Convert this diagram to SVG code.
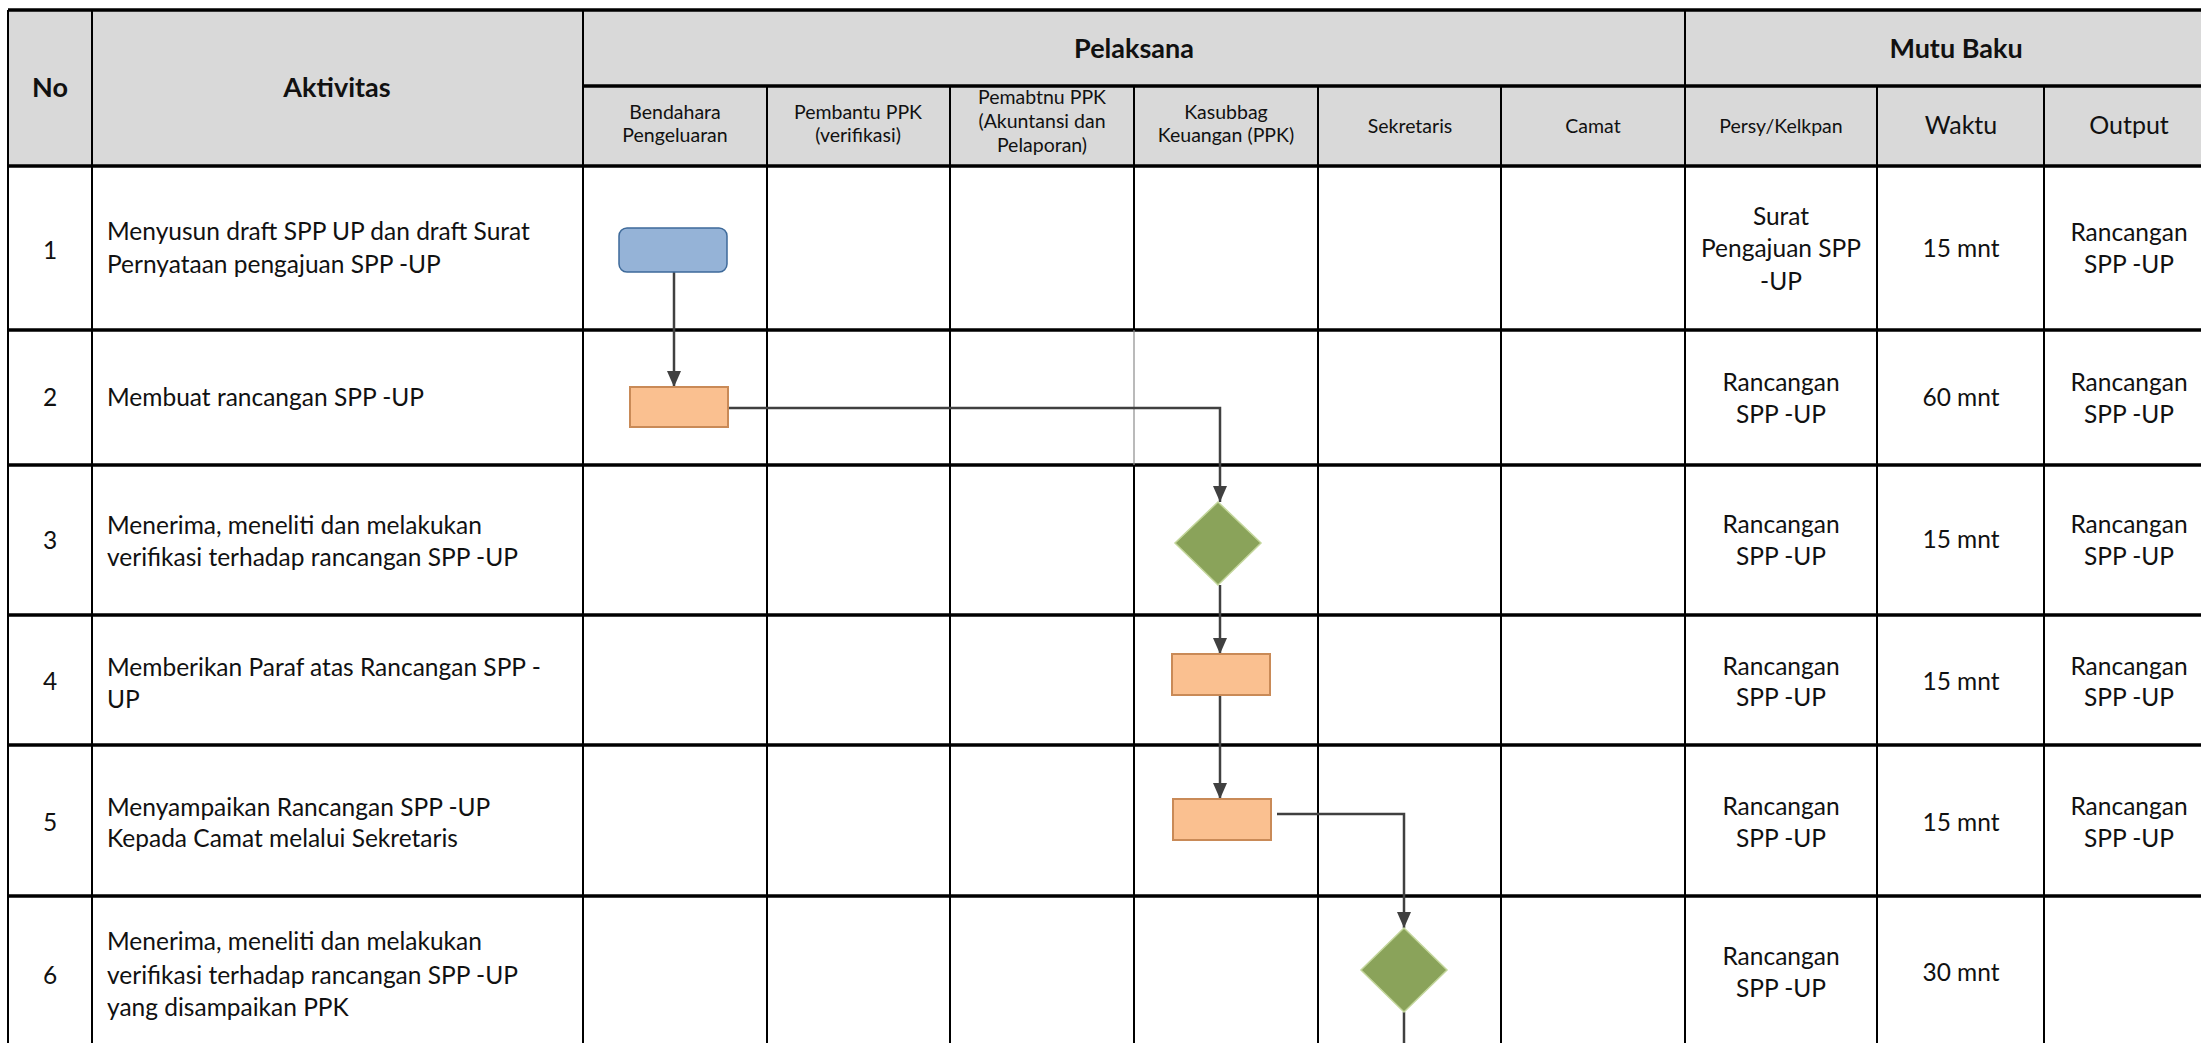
<svg xmlns="http://www.w3.org/2000/svg" width="2201" height="1043" viewBox="0 0 2201 1043">
<style>
  text { font-family: Lato, "Open Sans", sans-serif; fill: #111; }
  .h { font-weight: bold; font-size: 27px; text-anchor: middle; }
  .sh { font-size: 19.5px; text-anchor: middle; }
  .shl { font-size: 25px; text-anchor: middle; }
  .b { font-size: 24.5px; }
  .c { font-size: 24.5px; text-anchor: middle; }
  .gh { stroke: #000; stroke-width: 3.5; }
  .gv { stroke: #000; stroke-width: 2; }
  .proc { fill: #FAC090; stroke: #C98A57; stroke-width: 2; }
  .dec { fill: #8AA35A; stroke: #C3D69B; stroke-width: 1.5; }
  .start { fill: #95B3D7; stroke: #3E6A9A; stroke-width: 1.5; }
  .conn { fill: none; stroke: #404040; stroke-width: 2.5; }
</style>
<defs>
  <marker id="arr" markerUnits="userSpaceOnUse" markerWidth="16" markerHeight="14" refX="16" refY="7" orient="auto">
    <path d="M0,0 L16,7 L0,14 z" fill="#404040"/>
  </marker>
</defs>
<rect width="2201" height="1043" fill="#fff"/>
<g id="table">
  <rect x="8" y="10" width="2219" height="156" fill="#D9D9D9"/>
  <line class="gh" x1="8" y1="10" x2="2227" y2="10"/>
  <line class="gh" x1="583" y1="86" x2="2227" y2="86"/>
  <line class="gh" x1="8" y1="166" x2="2227" y2="166"/>
  <line class="gh" x1="8" y1="330" x2="2227" y2="330"/>
  <line class="gh" x1="8" y1="465" x2="2227" y2="465"/>
  <line class="gh" x1="8" y1="615" x2="2227" y2="615"/>
  <line class="gh" x1="8" y1="745" x2="2227" y2="745"/>
  <line class="gh" x1="8" y1="896" x2="2227" y2="896"/>
  <line class="gv" x1="8" y1="10" x2="8" y2="1050"/>
  <line class="gv" x1="92" y1="10" x2="92" y2="1050"/>
  <line class="gv" x1="583" y1="10" x2="583" y2="1050"/>
  <line class="gv" x1="767" y1="86" x2="767" y2="1050"/>
  <line class="gv" x1="950" y1="86" x2="950" y2="1050"/>
  <line class="gv" x1="1134" y1="86" x2="1134" y2="330"/>
  <line x1="1134" y1="330" x2="1134" y2="465" stroke="#8c8c8c" stroke-width="1.2"/>
  <line class="gv" x1="1134" y1="465" x2="1134" y2="1050"/>
  <line class="gv" x1="1318" y1="86" x2="1318" y2="1050"/>
  <line class="gv" x1="1501" y1="86" x2="1501" y2="1050"/>
  <line class="gv" x1="1685" y1="10" x2="1685" y2="1050"/>
  <line class="gv" x1="1877" y1="86" x2="1877" y2="1050"/>
  <line class="gv" x1="2044" y1="86" x2="2044" y2="1050"/>

  <text class="h" x="50" y="97">No</text>
  <text class="h" x="337" y="97">Aktivitas</text>
  <text class="h" x="1134" y="58">Pelaksana</text>
  <text class="h" x="1956" y="58">Mutu Baku</text>

  <text class="sh" x="675" y="119">Bendahara</text>
  <text class="sh" x="675" y="142">Pengeluaran</text>
  <text class="sh" x="858" y="119">Pembantu PPK</text>
  <text class="sh" x="858" y="142">(verifikasi)</text>
  <text class="sh" x="1042" y="104">Pemabtnu PPK</text>
  <text class="sh" x="1042" y="128">(Akuntansi dan</text>
  <text class="sh" x="1042" y="152">Pelaporan)</text>
  <text class="sh" x="1226" y="119">Kasubbag</text>
  <text class="sh" x="1226" y="142">Keuangan (PPK)</text>
  <text class="sh" x="1410" y="133">Sekretaris</text>
  <text class="sh" x="1593" y="133">Camat</text>
  <text class="sh" x="1781" y="133">Persy/Kelkpan</text>
  <text class="shl" x="1961" y="134">Waktu</text>
  <text class="shl" x="2129" y="134">Output</text>

  <text class="c" x="50" y="259">1</text>
  <text class="b" x="107" y="240">Menyusun draft SPP UP dan draft Surat</text>
  <text class="b" x="107" y="273">Pernyataan pengajuan SPP -UP</text>
  <text class="c" x="1781" y="225">Surat</text>
  <text class="c" x="1781" y="257">Pengajuan SPP</text>
  <text class="c" x="1781" y="290">-UP</text>
  <text class="c" x="1961" y="257">15 mnt</text>
  <text class="c" x="2129" y="241">Rancangan</text>
  <text class="c" x="2129" y="273">SPP -UP</text>

  <text class="c" x="50" y="406">2</text>
  <text class="b" x="107" y="406">Membuat rancangan SPP -UP</text>
  <text class="c" x="1781" y="391">Rancangan</text>
  <text class="c" x="1781" y="423">SPP -UP</text>
  <text class="c" x="1961" y="406">60 mnt</text>
  <text class="c" x="2129" y="391">Rancangan</text>
  <text class="c" x="2129" y="423">SPP -UP</text>

  <text class="c" x="50" y="549">3</text>
  <text class="b" x="107" y="534">Menerima, meneliti dan melakukan</text>
  <text class="b" x="107" y="566">verifikasi terhadap rancangan SPP -UP</text>
  <text class="c" x="1781" y="533">Rancangan</text>
  <text class="c" x="1781" y="565">SPP -UP</text>
  <text class="c" x="1961" y="548">15 mnt</text>
  <text class="c" x="2129" y="533">Rancangan</text>
  <text class="c" x="2129" y="565">SPP -UP</text>

  <text class="c" x="50" y="690">4</text>
  <text class="b" x="107" y="676">Memberikan Paraf atas Rancangan SPP -</text>
  <text class="b" x="107" y="708">UP</text>
  <text class="c" x="1781" y="675">Rancangan</text>
  <text class="c" x="1781" y="706">SPP -UP</text>
  <text class="c" x="1961" y="690">15 mnt</text>
  <text class="c" x="2129" y="675">Rancangan</text>
  <text class="c" x="2129" y="706">SPP -UP</text>

  <text class="c" x="50" y="831">5</text>
  <text class="b" x="107" y="816">Menyampaikan Rancangan SPP -UP</text>
  <text class="b" x="107" y="847">Kepada Camat melalui Sekretaris</text>
  <text class="c" x="1781" y="815">Rancangan</text>
  <text class="c" x="1781" y="847">SPP -UP</text>
  <text class="c" x="1961" y="831">15 mnt</text>
  <text class="c" x="2129" y="815">Rancangan</text>
  <text class="c" x="2129" y="847">SPP -UP</text>

  <text class="c" x="50" y="984">6</text>
  <text class="b" x="107" y="950">Menerima, meneliti dan melakukan</text>
  <text class="b" x="107" y="984">verifikasi terhadap rancangan SPP -UP</text>
  <text class="b" x="107" y="1016">yang disampaikan PPK</text>
  <text class="c" x="1781" y="965">Rancangan</text>
  <text class="c" x="1781" y="997">SPP -UP</text>
  <text class="c" x="1961" y="981">30 mnt</text>
</g>
<g id="connectors">
  <path class="conn" d="M674,272 V387" marker-end="url(#arr)"/>
  <path class="conn" d="M725,408 H1220 V502" marker-end="url(#arr)"/>
  <path class="conn" d="M1220,585 V654" marker-end="url(#arr)"/>
  <path class="conn" d="M1220,695 V799" marker-end="url(#arr)"/>
  <path class="conn" d="M1277,814 H1404 V928" marker-end="url(#arr)"/>
  <path class="conn" d="M1404,1012 V1050"/>
</g>
<g id="node1"><rect class="start" x="619" y="228" width="108" height="44" rx="8"/></g>
<g id="node2"><rect class="proc" x="630" y="387" width="98" height="40"/></g>
<g id="node3"><polygon class="dec" points="1218,502 1261,543 1218,585 1175,543"/></g>
<g id="node4"><rect class="proc" x="1172" y="654" width="98" height="41"/></g>
<g id="node5"><rect class="proc" x="1173" y="799" width="98" height="41"/></g>
<g id="node6"><polygon class="dec" points="1404,928 1447,970 1404,1012 1361,970"/></g>
</svg>
